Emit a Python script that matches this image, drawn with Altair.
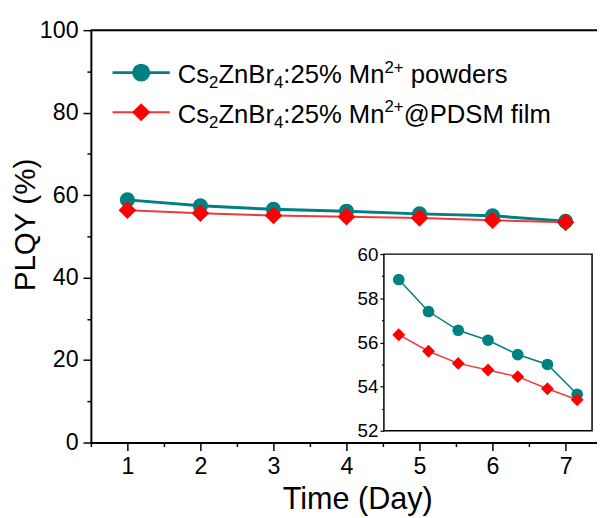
import altair as alt
import pandas as pd

days = [1, 2, 3, 4, 5, 6, 7]
powders = [58.85, 57.4, 56.55, 56.1, 55.45, 55.0, 53.65]
film = [56.35, 55.6, 55.05, 54.75, 54.45, 53.9, 53.4]
# legend labels split into (text, kind) pieces: n = normal, b = subscript, p = superscript
label_powders = [("Cs", "n"), ("2", "b"), ("ZnBr", "n"), ("4", "b"), (":25% Mn", "n"), ("2+", "p"), (" powders", "n")]
label_film = [("Cs", "n"), ("2", "b"), ("ZnBr", "n"), ("4", "b"), (":25% Mn", "n"), ("2+", "p"), ("@PDSM film", "n")]
x_ticks = [1, 2, 3, 4, 5, 6, 7]
x_minor = [0.5, 1.5, 2.5, 3.5, 4.5, 5.5, 6.5]
y_ticks = [0, 20, 40, 60, 80, 100]
y_minor = [10, 30, 50, 70, 90]
inset_ticks = [52, 54, 56, 58, 60]
inset_minor = [53, 55, 57, 59]

TEAL = "#008080"
RED = "#FF0000"
RED_LINE = "#EE3A3A"
FONT = "Liberation Sans"
LEG_FS = 26
SUB_FS = 17

# Arial / Liberation Sans advance widths (per 1000 em) for text layout
ADV = {"C": 722, "s": 500, "Z": 611, "n": 556, "B": 667, "r": 333, ":": 278, "2": 556,
       "5": 556, "%": 889, " ": 278, "M": 833, "4": 556, "+": 584, "p": 556, "o": 556,
       "w": 722, "d": 556, "e": 556, "@": 1015, "P": 667, "D": 722, "S": 667, "f": 278,
       "i": 222, "l": 222, "m": 833}


def text_width(s, fs):
    return sum(ADV.get(ch, 556) for ch in s) * fs / 1000.0


df = pd.DataFrame({"day": days, "powders": powders, "film": film})
one = pd.DataFrame({"k": [0]})

mx = alt.Scale(domain=[0.5, 7.43], nice=False, zero=False)
my = alt.Scale(domain=[0, 100], nice=False, zero=False)
ix = alt.Scale(domain=[0.5, 7.5], nice=False, zero=False, range=[297, 508])
iy = alt.Scale(domain=[52, 60], nice=False, zero=False, range=[406, 227])

base = alt.Chart(df)

x_axis = alt.Axis(orient="bottom", values=x_ticks, tickSize=8, tickWidth=1.5, tickColor="black",
                  domainWidth=2, domainColor="black", labelFont=FONT, labelFontSize=23.5,
                  labelColor="black", labelPadding=4, labelFlush=False, labelOverlap=False,
                  grid=False, title="Time (Day)", titleFont=FONT, titleFontSize=31,
                  titleFontWeight="normal", titleColor="black", titleX=270, titleY=67,
                  titleBaseline="alphabetic", titleAlign="center", format="d")
y_axis = alt.Axis(orient="left", values=y_ticks, tickSize=8, tickWidth=1.5, tickColor="black",
                  domainWidth=2, domainColor="black", labelFont=FONT, labelFontSize=23.5,
                  labelColor="black", labelPadding=5, labelFlush=False, labelOverlap=False,
                  grid=False, title="PLQY (%)", titleFont=FONT, titleFontSize=30,
                  titleFontWeight="normal", titleColor="black", titleX=-66, titleY=197,
                  titleAngle=270, titleBaseline="middle", titleAlign="center", format="d")

main_teal_line = base.mark_line(color=TEAL, strokeWidth=3).encode(
    x=alt.X("day:Q", scale=mx, axis=x_axis),
    y=alt.Y("powders:Q", scale=my, axis=y_axis),
)
minor_axes = base.mark_point(opacity=0).encode(
    x=alt.X("day:Q", scale=mx, axis=alt.Axis(orient="bottom", values=x_minor, labels=False,
                                             domain=False, tickSize=4, tickWidth=1.5,
                                             tickColor="black", grid=False, title=None)),
    y=alt.Y("powders:Q", scale=my, axis=alt.Axis(orient="left", values=y_minor, labels=False,
                                                 domain=False, tickSize=4, tickWidth=1.5,
                                                 tickColor="black", grid=False, title=None)),
)
main_teal_pts = base.mark_point(shape="circle", filled=True, color=TEAL, size=235, opacity=1).encode(
    x=alt.X("day:Q", scale=mx, axis=None),
    y=alt.Y("powders:Q", scale=my, axis=None),
)
main_red_line = base.mark_line(color=RED_LINE, strokeWidth=2).encode(
    x=alt.X("day:Q", scale=mx, axis=None),
    y=alt.Y("film:Q", scale=my, axis=None),
)
main_red_pts = base.mark_point(shape="diamond", filled=True, color=RED, size=320, opacity=1).encode(
    x=alt.X("day:Q", scale=mx, axis=None),
    y=alt.Y("film:Q", scale=my, axis=None),
)
top_frame = alt.Chart(one).mark_rule(color="black", strokeWidth=2).encode(
    y=alt.YDatum(100, scale=my, axis=None),
)


def legend_row(yv, line_color, pt_color, width, shape, size, pieces):
    c = alt.Chart(one)
    layers = [
        c.mark_rule(color=line_color, strokeWidth=width).encode(
            x=alt.XDatum(0.797, scale=mx, axis=None), x2=alt.X2Datum(1.581),
            y=alt.YDatum(yv, scale=my, axis=None)),
        c.mark_point(shape=shape, filled=True, color=pt_color, size=size, opacity=1).encode(
            x=alt.XDatum(1.189, scale=mx, axis=None), y=alt.YDatum(yv, scale=my, axis=None)),
    ]
    dx = 0.0
    for s, kind in pieces:
        fs = LEG_FS if kind == "n" else SUB_FS
        dy = 11 if kind == "n" else (16 if kind == "b" else 0)
        lead = len(s) - len(s.lstrip(" "))
        dx += text_width(" " * lead, fs)
        s = s.lstrip(" ")
        layers.append(
            c.mark_text(align="left", baseline="alphabetic", font=FONT, fontSize=fs,
                        color="black", dx=dx, dy=dy).encode(
                x=alt.XDatum(1.689, scale=mx, axis=None),
                y=alt.YDatum(yv, scale=my, axis=None),
                text=alt.value(s)))
        dx += text_width(s, fs)
    return layers


legend = legend_row(89.7, TEAL, TEAL, 3, "circle", 330, label_powders) + \
         legend_row(80.1, RED_LINE, RED, 2, "diamond", 340, label_film)

# inset
inset_frame = alt.Chart(one).mark_rect(fill="white", stroke="black", strokeWidth=1.5).encode(
    x=alt.XDatum(0.5, scale=ix, axis=None), x2=alt.X2Datum(7.5),
    y=alt.YDatum(52, scale=iy, axis=None), y2=alt.Y2Datum(60),
)
inset_teal_line = base.mark_line(color=TEAL, strokeWidth=1.5).encode(
    x=alt.X("day:Q", scale=ix, axis=None),
    y=alt.Y("powders:Q", scale=iy,
            axis=alt.Axis(orient="left", offset=-297, values=inset_ticks, tickSize=4,
                          tickWidth=1.2, tickColor="black", domain=False, labelFont=FONT,
                          labelFontSize=19, labelColor="black", labelPadding=2,
                          labelFlush=False, labelOverlap=False, grid=False, title=None,
                          format="d")),
)
inset_minor_axis = base.mark_point(opacity=0).encode(
    x=alt.X("day:Q", scale=ix, axis=None),
    y=alt.Y("powders:Q", scale=iy,
            axis=alt.Axis(orient="left", offset=-297, values=inset_minor, labels=False,
                          domain=False, tickSize=2.5, tickWidth=1.2, tickColor="black",
                          grid=False, title=None)),
)
inset_teal_pts = base.mark_point(shape="circle", filled=True, color=TEAL, size=140, opacity=1).encode(
    x=alt.X("day:Q", scale=ix, axis=None),
    y=alt.Y("powders:Q", scale=iy, axis=None),
)
inset_red_line = base.mark_line(color=RED_LINE, strokeWidth=1.5).encode(
    x=alt.X("day:Q", scale=ix, axis=None),
    y=alt.Y("film:Q", scale=iy, axis=None),
)
inset_red_pts = base.mark_point(shape="diamond", filled=True, color=RED, size=170, opacity=1).encode(
    x=alt.X("day:Q", scale=ix, axis=None),
    y=alt.Y("film:Q", scale=iy, axis=None),
)

chart = alt.layer(
    main_teal_line, minor_axes, main_teal_pts, main_red_line, main_red_pts, top_frame,
    *legend,
    inset_frame, inset_teal_line, inset_minor_axis, inset_teal_pts, inset_red_line, inset_red_pts,
).resolve_scale(x="independent", y="independent").properties(
    width=513, height=418,
    padding={"left": 84, "top": 19, "right": 0, "bottom": 73},
    autosize=alt.AutoSizeParams(type="none"),
).configure_view(stroke=None).configure(background="white")

chart.save("out.html", embed_options={"renderer": "svg", "actions": False})
